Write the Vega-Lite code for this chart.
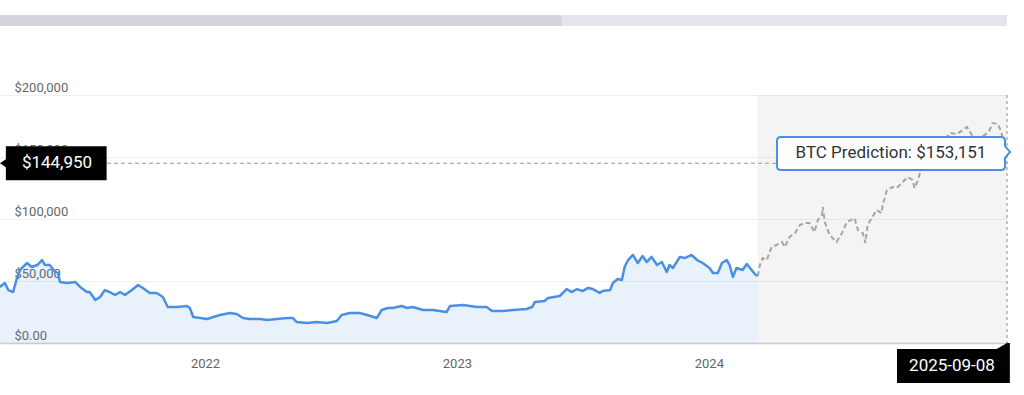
{
  "$schema": "https://vega.github.io/schema/vega-lite/v6.json",
  "background": "white",
  "padding": {"left": 0, "top": 15, "right": 0, "bottom": 0},
  "spacing": 69,
  "bounds": "flush",
  "config": {"view": {"stroke": null}, "font": "Roboto", "axis": {"labelFont": "Roboto"}},
  "vconcat": [
    {
      "width": 1007,
      "height": 11,
      "data": {"values": [
        {"start": "2021-03-10", "end": "2023-06-02", "part": "viewed"},
        {"start": "2023-06-02", "end": "2025-03-08", "part": "rest"}
      ]},
      "mark": {"type": "rect"},
      "encoding": {
        "x": {"field": "start", "type": "temporal", "scale": {"domain": [{"year": 2021, "month": 3, "date": 10, "utc": true}, {"year": 2025, "month": 3, "date": 8, "utc": true}]}, "axis": null},
        "x2": {"field": "end"},
        "color": {"field": "part", "type": "nominal", "scale": {"domain": ["viewed", "rest"], "range": ["#d3d4d9", "#e4e5ea"]}, "legend": null}
      }
    },
    {
      "width": 1007,
      "height": 248,
      "layer": [
        {
          "data": {"values": [{"start": "2024-03-12", "end": "2025-03-08"}]},
          "mark": {"type": "rect", "color": "#000000", "opacity": 0.045},
          "encoding": {
            "x": {"field": "start", "type": "temporal",
              "scale": {"domain": [{"year": 2021, "month": 3, "date": 10, "utc": true}, {"year": 2025, "month": 3, "date": 8, "utc": true}]},
              "axis": {"values": [{"year": 2022, "month": 1, "date": 1}, {"year": 2023, "month": 1, "date": 1}, {"year": 2024, "month": 1, "date": 1}], "format": "%Y", "title": null, "ticks": false, "grid": false, "domainColor": "#cccccc", "domainWidth": 1.5, "labelColor": "#666666", "labelFontSize": 13, "labelPadding": 14}},
            "x2": {"field": "end"}
          }
        },
        {
          "data": {"name": "hist"},
          "mark": {"type": "area", "color": "#4a90e2", "opacity": 0.12, "clip": true},
          "encoding": {
            "x": {"field": "date", "type": "temporal"},
            "y": {"field": "value", "type": "quantitative",
              "scale": {"domain": [0, 200000], "nice": false, "zero": true},
              "axis": {"values": [0, 50000, 100000, 150000, 200000], "title": null, "domain": false, "ticks": false, "grid": true, "gridColor": "#efefef", "gridWidth": 1, "labelAlign": "left", "labelBaseline": "alphabetic", "labelPadding": -14, "labelOffset": -4, "labelColor": "#666666", "labelFontSize": 13, "labelOverlap": false, "labelFlush": false, "labelExpr": "datum.value == 0 ? '$0.00' : '$' + format(datum.value, ',')"}}
          }
        },
        {
          "data": {"name": "hist"},
          "mark": {"type": "line", "color": "#4a90e2", "strokeWidth": 2.5, "strokeJoin": "round", "clip": true},
          "encoding": {
            "x": {"field": "date", "type": "temporal"},
            "y": {"field": "value", "type": "quantitative"}
          }
        },
        {
          "data": {"name": "pred"},
          "mark": {"type": "line", "color": "#a5a5a5", "strokeWidth": 2, "strokeDash": [5, 3], "clip": true},
          "encoding": {
            "x": {"field": "date", "type": "temporal"},
            "y": {"field": "value", "type": "quantitative"}
          }
        },
        {
          "data": {"values": [{"value": 144950}]},
          "mark": {"type": "rule", "color": "#9a9a9a", "strokeWidth": 1, "strokeDash": [4, 3], "clip": true},
          "encoding": {"y": {"field": "value", "type": "quantitative"}}
        },
        {
          "data": {"values": [{"date": "2025-03-08"}]},
          "mark": {"type": "rule", "color": "#a0a0a0", "strokeWidth": 1.2, "strokeDash": [3, 3]},
          "encoding": {"x": {"field": "date", "type": "temporal"}}
        },
        {
          "data": {"values": [{"date": "2021-03-10", "value": 144950, "label": "$144,950"}]},
          "mark": {"type": "point", "shape": "M0,0 L0.11,-0.075 L0.11,-0.32 L2,-0.32 L2,0.32 L0.11,0.32 L0.11,0.075 Z", "size": 11364, "filled": true, "color": "#000000", "opacity": 1, "strokeWidth": 0},
          "encoding": {
            "x": {"field": "date", "type": "temporal"},
            "y": {"field": "value", "type": "quantitative"}
          }
        },
        {
          "data": {"values": [{"date": "2021-03-10", "value": 144950, "label": "$144,950"}]},
          "mark": {"type": "text", "color": "#ffffff", "fontSize": 17, "font": "Roboto", "align": "center", "baseline": "middle", "dx": 57},
          "encoding": {
            "x": {"field": "date", "type": "temporal"},
            "y": {"field": "value", "type": "quantitative"},
            "text": {"field": "label"}
          }
        },
        {
          "data": {"values": [{"date": "2025-03-08", "value": 153151, "label": "BTC Prediction: $153,151"}]},
          "mark": {"type": "point", "shape": "M-1.932,-0.137 L-0.051,-0.137 Q-0.017,-0.137 -0.017,-0.103 L-0.017,-0.06 L0.026,-0.01 L-0.017,0.04 L-0.017,0.111 Q-0.017,0.145 -0.051,0.145 L-1.932,0.145 Q-1.966,0.145 -1.966,0.111 L-1.966,-0.103 Q-1.966,-0.137 -1.932,-0.137 Z", "size": 54756, "filled": true, "fill": "#ffffff", "stroke": "#4a90e2", "strokeWidth": 2, "opacity": 1},
          "encoding": {
            "x": {"field": "date", "type": "temporal"},
            "y": {"field": "value", "type": "quantitative"}
          }
        },
        {
          "data": {"values": [{"date": "2025-03-08", "value": 153151, "label": "BTC Prediction: $153,151"}]},
          "mark": {"type": "text", "color": "#333333", "fontSize": 17, "font": "Roboto", "align": "center", "baseline": "middle", "dx": -116},
          "encoding": {
            "x": {"field": "date", "type": "temporal"},
            "y": {"field": "value", "type": "quantitative"},
            "text": {"field": "label"}
          }
        },
        {
          "data": {"values": [{"date": "2025-03-08", "value": 0, "label": "2025-09-08"}]},
          "mark": {"type": "point", "shape": "M-1.93,0.105 L-0.18,0.105 L0,0 L0.05,0 L0.05,0.7 L-1.93,0.7 Z", "size": 12996, "filled": true, "color": "#000000", "opacity": 1, "strokeWidth": 0},
          "encoding": {
            "x": {"field": "date", "type": "temporal"},
            "y": {"field": "value", "type": "quantitative"}
          }
        },
        {
          "data": {"values": [{"date": "2025-03-08", "value": 0, "label": "2025-09-08"}]},
          "mark": {"type": "text", "color": "#ffffff", "fontSize": 17, "font": "Roboto", "align": "center", "baseline": "middle", "dx": -55, "dy": 23},
          "encoding": {
            "x": {"field": "date", "type": "temporal"},
            "y": {"field": "value", "type": "quantitative"},
            "text": {"field": "label"}
          }
        }
      ]
    }
  ],
  "datasets": {
    "hist": [
      {"date": "2021-03-10", "value": 45200},
      {"date": "2021-03-17", "value": 48400},
      {"date": "2021-03-22", "value": 42700},
      {"date": "2021-03-29", "value": 41100},
      {"date": "2021-04-04", "value": 53200},
      {"date": "2021-04-08", "value": 58900},
      {"date": "2021-04-18", "value": 64500},
      {"date": "2021-04-25", "value": 61300},
      {"date": "2021-05-03", "value": 62900},
      {"date": "2021-05-10", "value": 66900},
      {"date": "2021-05-14", "value": 62900},
      {"date": "2021-05-21", "value": 62900},
      {"date": "2021-05-29", "value": 57300},
      {"date": "2021-06-02", "value": 56500},
      {"date": "2021-06-05", "value": 49200},
      {"date": "2021-06-15", "value": 48400},
      {"date": "2021-06-27", "value": 49200},
      {"date": "2021-07-04", "value": 45200},
      {"date": "2021-07-14", "value": 41100},
      {"date": "2021-07-18", "value": 41100},
      {"date": "2021-07-26", "value": 34700},
      {"date": "2021-08-02", "value": 37100},
      {"date": "2021-08-09", "value": 42700},
      {"date": "2021-08-16", "value": 41100},
      {"date": "2021-08-24", "value": 38700},
      {"date": "2021-08-31", "value": 41100},
      {"date": "2021-09-07", "value": 38700},
      {"date": "2021-09-17", "value": 42700},
      {"date": "2021-09-26", "value": 46800},
      {"date": "2021-10-03", "value": 44400},
      {"date": "2021-10-13", "value": 40300},
      {"date": "2021-10-23", "value": 40300},
      {"date": "2021-11-01", "value": 37100},
      {"date": "2021-11-08", "value": 29000},
      {"date": "2021-11-21", "value": 29000},
      {"date": "2021-12-06", "value": 29800},
      {"date": "2021-12-10", "value": 28200},
      {"date": "2021-12-15", "value": 21000},
      {"date": "2021-12-25", "value": 20200},
      {"date": "2022-01-04", "value": 19400},
      {"date": "2022-01-13", "value": 21000},
      {"date": "2022-01-23", "value": 22600},
      {"date": "2022-02-06", "value": 24200},
      {"date": "2022-02-16", "value": 23400},
      {"date": "2022-02-25", "value": 20200},
      {"date": "2022-03-07", "value": 19400},
      {"date": "2022-03-22", "value": 19400},
      {"date": "2022-04-01", "value": 18500},
      {"date": "2022-04-15", "value": 19400},
      {"date": "2022-04-30", "value": 20200},
      {"date": "2022-05-08", "value": 20200},
      {"date": "2022-05-14", "value": 16900},
      {"date": "2022-05-29", "value": 16100},
      {"date": "2022-06-12", "value": 16900},
      {"date": "2022-06-27", "value": 16100},
      {"date": "2022-07-11", "value": 17700},
      {"date": "2022-07-18", "value": 22600},
      {"date": "2022-07-30", "value": 24200},
      {"date": "2022-08-13", "value": 24200},
      {"date": "2022-08-24", "value": 22600},
      {"date": "2022-09-07", "value": 20200},
      {"date": "2022-09-14", "value": 26600},
      {"date": "2022-09-23", "value": 28200},
      {"date": "2022-09-30", "value": 28200},
      {"date": "2022-10-13", "value": 29800},
      {"date": "2022-10-21", "value": 28200},
      {"date": "2022-10-29", "value": 29000},
      {"date": "2022-11-13", "value": 26600},
      {"date": "2022-11-27", "value": 26600},
      {"date": "2022-12-17", "value": 25000},
      {"date": "2022-12-22", "value": 29800},
      {"date": "2023-01-10", "value": 30600},
      {"date": "2023-01-30", "value": 29000},
      {"date": "2023-02-13", "value": 29000},
      {"date": "2023-02-21", "value": 25800},
      {"date": "2023-03-09", "value": 25800},
      {"date": "2023-03-23", "value": 26600},
      {"date": "2023-04-12", "value": 27400},
      {"date": "2023-04-20", "value": 29000},
      {"date": "2023-04-24", "value": 33100},
      {"date": "2023-05-08", "value": 33900},
      {"date": "2023-05-13", "value": 36300},
      {"date": "2023-05-30", "value": 37900},
      {"date": "2023-06-09", "value": 43500},
      {"date": "2023-06-16", "value": 41100},
      {"date": "2023-06-24", "value": 43500},
      {"date": "2023-07-02", "value": 41900},
      {"date": "2023-07-10", "value": 44400},
      {"date": "2023-07-17", "value": 43500},
      {"date": "2023-07-27", "value": 40300},
      {"date": "2023-07-31", "value": 41900},
      {"date": "2023-08-11", "value": 42700},
      {"date": "2023-08-15", "value": 48400},
      {"date": "2023-08-22", "value": 51600},
      {"date": "2023-08-28", "value": 50800},
      {"date": "2023-09-01", "value": 61300},
      {"date": "2023-09-06", "value": 66900},
      {"date": "2023-09-13", "value": 71000},
      {"date": "2023-09-20", "value": 64500},
      {"date": "2023-09-27", "value": 70200},
      {"date": "2023-10-03", "value": 65300},
      {"date": "2023-10-10", "value": 69400},
      {"date": "2023-10-18", "value": 62900},
      {"date": "2023-10-25", "value": 65300},
      {"date": "2023-11-01", "value": 57300},
      {"date": "2023-11-05", "value": 62900},
      {"date": "2023-11-10", "value": 60500},
      {"date": "2023-11-20", "value": 69400},
      {"date": "2023-11-27", "value": 68500},
      {"date": "2023-12-07", "value": 71000},
      {"date": "2023-12-15", "value": 66900},
      {"date": "2023-12-23", "value": 64500},
      {"date": "2024-01-02", "value": 60500},
      {"date": "2024-01-07", "value": 56500},
      {"date": "2024-01-14", "value": 56500},
      {"date": "2024-01-20", "value": 64500},
      {"date": "2024-01-27", "value": 66900},
      {"date": "2024-01-31", "value": 62900},
      {"date": "2024-02-05", "value": 53200},
      {"date": "2024-02-10", "value": 60500},
      {"date": "2024-02-19", "value": 58900},
      {"date": "2024-02-25", "value": 63700},
      {"date": "2024-03-03", "value": 58900},
      {"date": "2024-03-08", "value": 55500},
      {"date": "2024-03-12", "value": 54000}
    ],
    "pred": [
      {"date": "2024-03-12", "value": 54000},
      {"date": "2024-03-15", "value": 62900},
      {"date": "2024-03-19", "value": 68500},
      {"date": "2024-03-25", "value": 66900},
      {"date": "2024-04-01", "value": 77400},
      {"date": "2024-04-08", "value": 79000},
      {"date": "2024-04-16", "value": 81500},
      {"date": "2024-04-20", "value": 77400},
      {"date": "2024-04-27", "value": 85500},
      {"date": "2024-05-05", "value": 88700},
      {"date": "2024-05-12", "value": 95200},
      {"date": "2024-05-19", "value": 96800},
      {"date": "2024-05-26", "value": 96800},
      {"date": "2024-06-02", "value": 89500},
      {"date": "2024-06-07", "value": 99200},
      {"date": "2024-06-13", "value": 103200},
      {"date": "2024-06-14", "value": 109700},
      {"date": "2024-06-17", "value": 97600},
      {"date": "2024-06-24", "value": 87100},
      {"date": "2024-07-04", "value": 81500},
      {"date": "2024-07-12", "value": 88700},
      {"date": "2024-07-19", "value": 97600},
      {"date": "2024-07-30", "value": 100800},
      {"date": "2024-08-04", "value": 91100},
      {"date": "2024-08-11", "value": 88700},
      {"date": "2024-08-15", "value": 80600},
      {"date": "2024-08-18", "value": 95200},
      {"date": "2024-08-25", "value": 101600},
      {"date": "2024-08-31", "value": 107300},
      {"date": "2024-09-07", "value": 104800},
      {"date": "2024-09-09", "value": 111300},
      {"date": "2024-09-15", "value": 123400},
      {"date": "2024-09-23", "value": 125800},
      {"date": "2024-09-29", "value": 125000},
      {"date": "2024-10-08", "value": 129800},
      {"date": "2024-10-15", "value": 133900},
      {"date": "2024-10-22", "value": 131500},
      {"date": "2024-10-25", "value": 125000},
      {"date": "2024-10-30", "value": 131500},
      {"date": "2024-11-02", "value": 137100},
      {"date": "2024-11-06", "value": 141900},
      {"date": "2024-11-16", "value": 149200},
      {"date": "2024-11-28", "value": 157300},
      {"date": "2024-12-08", "value": 163700},
      {"date": "2024-12-15", "value": 169400},
      {"date": "2024-12-25", "value": 168500},
      {"date": "2025-01-03", "value": 171800},
      {"date": "2025-01-09", "value": 174200},
      {"date": "2025-01-16", "value": 167700},
      {"date": "2025-01-25", "value": 165300},
      {"date": "2025-02-04", "value": 167700},
      {"date": "2025-02-11", "value": 171800},
      {"date": "2025-02-15", "value": 177400},
      {"date": "2025-02-23", "value": 176600},
      {"date": "2025-02-28", "value": 169400},
      {"date": "2025-03-03", "value": 161300},
      {"date": "2025-03-08", "value": 153151}
    ]
  }
}
